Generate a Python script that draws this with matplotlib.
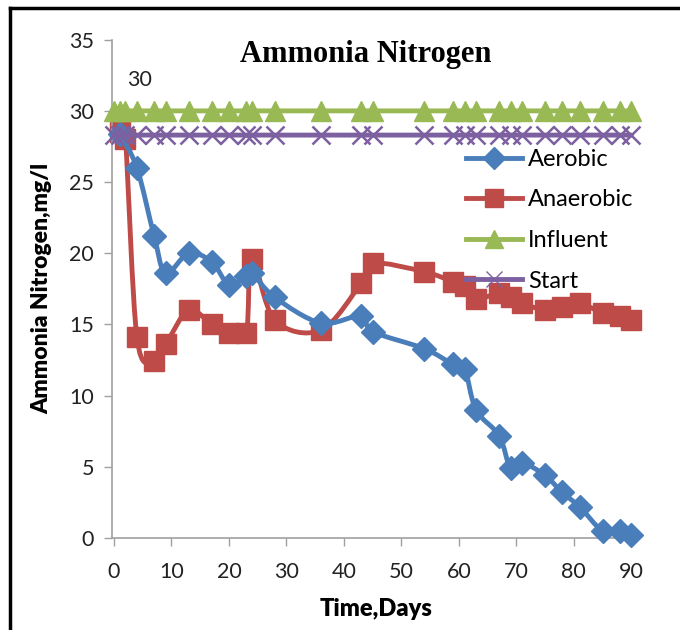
import matplotlib
matplotlib.use("Agg")
import matplotlib.pyplot as plt
import numpy as np
from matplotlib.path import Path
from matplotlib.patches import PathPatch
from matplotlib.lines import Line2D

# ---- data ----
aer_x = [1, 4, 7, 9, 13, 17, 20, 23, 24, 28, 36, 43, 45, 54, 59, 61, 63, 67, 69, 71, 75, 78, 81, 85, 88, 90]
aer_y = [28.4, 26.0, 21.2, 18.6, 20.0, 19.4, 17.8, 18.4, 18.6, 16.9, 15.1, 15.6, 14.5, 13.3, 12.2, 11.9, 9.0, 7.2, 4.9, 5.3, 4.4, 3.2, 2.2, 0.5, 0.5, 0.2]

ana_x = [1, 2, 4, 7, 9, 13, 17, 20, 23, 24, 28, 36, 43, 45, 54, 59, 61, 63, 67, 69, 71, 75, 78, 81, 85, 88, 90]
ana_y = [28.5, 28.0, 14.1, 12.4, 13.6, 16.0, 15.0, 14.4, 14.4, 19.6, 15.3, 14.6, 17.9, 19.3, 18.7, 18.0, 17.7, 16.8, 17.2, 16.9, 16.5, 16.0, 16.2, 16.5, 15.8, 15.6, 15.3]

inf_x = [0, 1, 2, 4, 7, 9, 13, 17, 20, 23, 24, 28, 36, 43, 45, 54, 59, 61, 63, 67, 69, 71, 75, 78, 81, 85, 88, 90]
inf_y = [30.0] * len(inf_x)

start_x = inf_x
start_y = [28.3] * len(start_x)

series_names = ["Aerobic", "Anaerobic", "Influent", "Start"]
x_ticks = list(range(0, 91, 10))
y_ticks = list(range(0, 36, 5))

# ---- style ----
colors = ["#4A7EBB", "#BE4B48", "#98B954", "#7D60A0"]
markers = ["D", "s", "^", "x"]
msizes = [12, 15, 14, 13]
FONT = "Lato"

fig = plt.figure(figsize=(6.8, 6.3), dpi=100)
ax = fig.add_axes([0.165, 0.146, 0.776, 0.791])


def smooth_path(xs, ys, ax):
    # Excel-style smoothed line (Catmull-Rom as cubic Bezier) in display space
    pts = ax.transData.transform(np.column_stack([xs, ys]))
    n = len(pts)
    verts = [pts[0]]
    codes = [Path.MOVETO]
    for i in range(n - 1):
        p0 = pts[i - 1] if i > 0 else pts[i]
        p1 = pts[i]
        p2 = pts[i + 1]
        p3 = pts[i + 2] if i + 2 < n else pts[i + 1]
        c1 = p1 + (p2 - p0) / 6.0
        c2 = p2 - (p3 - p1) / 6.0
        verts += [c1, c2, p2]
        codes += [Path.CURVE4] * 3
    inv = ax.transData.inverted()
    return Path(inv.transform(np.array(verts)), codes)


ax.set_xlim(-0.3, 91.5)
ax.set_ylim(0, 35)

data = [(aer_x, aer_y), (ana_x, ana_y), (inf_x, inf_y), (start_x, start_y)]
zorders = [3, 2, 4, 5]
handles = []
for (xs, ys), c, m, ms, nm, z in zip(data, colors, markers, msizes, series_names, zorders):
    ax.plot(xs, ys, linestyle="none", marker=m, markersize=ms, color=c,
            markeredgewidth=1.8 if m == "x" else 1, markeredgecolor=c, zorder=z + 0.5, clip_on=False)
    handles.append(Line2D([], [], color=c, lw=3.5, marker=m, markersize=ms * 0.9,
                          markeredgewidth=1.0 if m == "x" else 1, label=nm))

fig.canvas.draw()
for (xs, ys), c, z in zip(data, colors, zorders):
    p = smooth_path(xs, ys, ax)
    ax.add_patch(PathPatch(p, facecolor="none", edgecolor=c, lw=3.5, zorder=z, clip_on=False,
                           capstyle="round", joinstyle="round"))

# data label
ax.text(2.3, 31.5, "30", fontsize=15.5, family=FONT, color="#222222", ha="left", va="bottom")

ax.set_xticks(x_ticks)
ax.set_yticks(y_ticks)
for s in ["top", "right"]:
    ax.spines[s].set_visible(False)
for s in ["left", "bottom"]:
    ax.spines[s].set_color("#A0A0A0")
    ax.spines[s].set_linewidth(1.2)
ax.tick_params(axis="both", direction="out", length=6, width=1, color="#A0A0A0",
               labelsize=15.5, labelcolor="#222222", pad=7)
ax.tick_params(axis="x", pad=11)
for lab in ax.get_xticklabels() + ax.get_yticklabels():
    lab.set_family(FONT)

ax.set_xlabel("Time,Days", fontsize=17, fontweight="heavy", family=FONT, labelpad=12)
ax.set_ylabel("Ammonia Nitrogen,mg/l", fontsize=16.5, fontweight="heavy", family=FONT, labelpad=12)

fig.text(0.538, 0.914, "Ammonia Nitrogen", fontsize=22, fontweight="bold",
         family="Liberation Serif", ha="center", va="center")

leg = ax.legend(handles=handles, loc="upper left", bbox_to_anchor=(0.652, 0.8), frameon=False,
                prop={"family": FONT, "size": 17}, handlelength=2.4, handletextpad=0.25,
                labelspacing=0.83, borderaxespad=0)

# figure border (left & top visible in reference)
fig.add_artist(Line2D([0.015, 0.015], [0.0, 0.987], color="black", lw=2.5, transform=fig.transFigure))
fig.add_artist(Line2D([0.015, 1.0], [0.987, 0.987], color="black", lw=2.5, transform=fig.transFigure))

fig.savefig("out.png", dpi=100)
